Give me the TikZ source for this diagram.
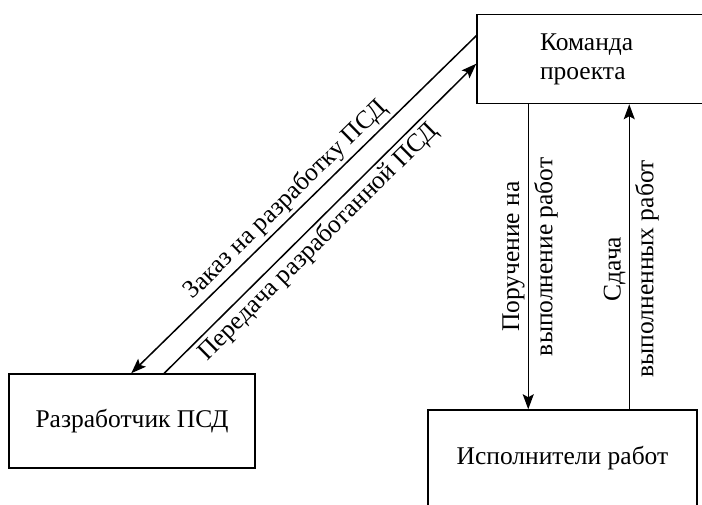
\documentclass[tikz,border=0pt]{standalone}
\usepackage{fontspec}
\setmainfont{Liberation Serif}
\usetikzlibrary{arrows.meta,calc}
\begin{document}
\begin{tikzpicture}[x=1pt,y=-1pt,font=\fontsize{25.5}{29}\selectfont,
  box/.style={draw,line width=1.5pt,inner sep=0pt},
  conn/.style={line width=1.5pt,-{Stealth[length=15pt,width=11pt,inset=3pt]}},
  connback/.style={line width=1.5pt,{Stealth[length=15pt,width=11pt,inset=3pt]}-},
  lbl/.style={sloped,inner sep=3pt},
  lblfar/.style={sloped,inner sep=5pt}]
\useasboundingbox (0,0) rectangle (702,504);
\node[box,minimum width=243pt,minimum height=89pt,text width=117pt,align=left] (cmd) at (598.5,59) {Команда\\проекта};
\node[box,minimum width=246pt,minimum height=94pt] (dev) at (132,421) {Разработчик ПСД};
\node[box,minimum width=269pt,minimum height=96pt] (exec) at (562.5,458) {Исполнители работ};
\draw[conn] ($(cmd.north west)+(0,22)$) -- node[lbl,above,pos=0.52] (l1) {Заказ на разработку ПСД} ($(dev.north west)+(123,0)$);
\draw[conn] ($(dev.north west)+(156,0)$) -- node[lbl,below,pos=0.46] (l2) {Передача разработанной ПСД} ($(cmd.north west)+(0,50)$);
\draw[connback] ($(exec.north west)+(101,0)$) -- node[lbl,above,pos=0.5] (l3) {Поручение на} node[lblfar,below,pos=0.5] (l4) {выполнение работ} ($(cmd.south west)+(52,0)$);
\draw[conn] ($(exec.north west)+(202,0)$) -- node[lbl,above,pos=0.46] (l5) {Сдача} node[lblfar,below,pos=0.46] (l6) {выполненных работ} ($(cmd.south west)+(153,0)$);
\end{tikzpicture}
\end{document}
